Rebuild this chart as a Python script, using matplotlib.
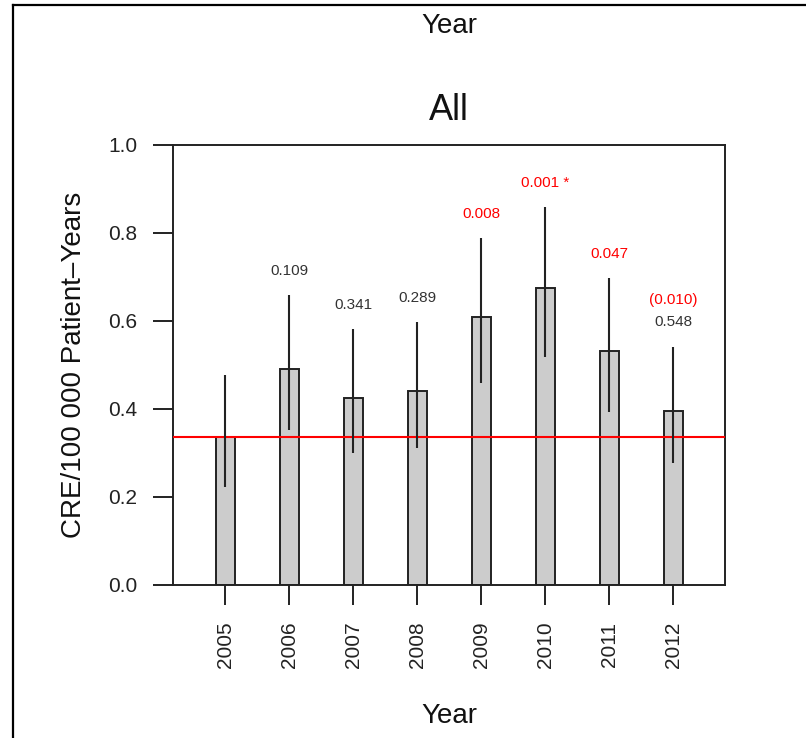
import matplotlib
matplotlib.use("Agg")
import matplotlib.pyplot as plt
from matplotlib.lines import Line2D

plt.rcParams["font.family"] = ["Liberation Sans", "DejaVu Sans"]

# values
years = ["2005", "2006", "2007", "2008", "2009", "2010", "2011", "2012"]
rates = [0.337, 0.492, 0.426, 0.440, 0.610, 0.674, 0.531, 0.396]
ci_low = [0.223, 0.353, 0.300, 0.312, 0.460, 0.519, 0.394, 0.278]
ci_high = [0.478, 0.658, 0.581, 0.597, 0.788, 0.859, 0.697, 0.542]
baseline = 0.337
p_labels = ["", "0.109", "0.341", "0.289", "0.008", "0.001 *", "0.047", "0.548"]
p_colors = ["black", "#333333", "#333333", "#333333", "red", "red", "red", "#333333"]
extra_label = {7: "(0.010)"}

fig = plt.figure(figsize=(8.06, 7.38), dpi=100)
ax = fig.add_axes([173 / 806, 1 - 585 / 738, (725 - 173) / 806, (585 - 145) / 738])

x = list(range(len(years)))
ax.bar(x, rates, width=0.3, color="#cccccc", edgecolor="#222222", linewidth=1.4, zorder=2)
ax.axhline(baseline, color="red", linewidth=1.5, zorder=3)
ax.vlines(x, ci_low, ci_high, color="#222222", linewidth=1.5, zorder=4)

for i, lab in enumerate(p_labels):
    if lab:
        ax.text(i, ci_high[i] + 0.055, lab, ha="center", va="center",
                fontsize=11, color=p_colors[i])
for i, lab in extra_label.items():
    ax.text(i, ci_high[i] + 0.105, lab, ha="center", va="center",
            fontsize=11, color="red")

ax.set_xlim(-0.82, 7.81)
ax.set_ylim(0, 1.0)
ax.set_yticks([0.0, 0.2, 0.4, 0.6, 0.8, 1.0])
ax.set_yticklabels(["0.0", "0.2", "0.4", "0.6", "0.8", "1.0"])
ax.set_xticks(x)
ax.set_xticklabels(years, rotation=90)
ax.tick_params(axis="both", direction="out", length=14.5, width=1.4,
               color="#222222", labelsize=15, labelcolor="#222222")
ax.tick_params(axis="y", pad=11)
ax.tick_params(axis="x", pad=12)
for sp in ax.spines.values():
    sp.set_linewidth(1.4)
    sp.set_color("#222222")

ax.set_ylabel("CRE/100 000 Patient\u2013Years", fontsize=20, labelpad=15, color="#111111")
ax.set_xlabel("Year", fontsize=20, labelpad=25, color="#111111")
ax.set_title("All", fontsize=26, pad=18, color="#111111")

fig.text(449 / 806, 1 - 26 / 738, "Year", ha="center", va="center", fontsize=20, color="#111111")

# outer frame (left and top edges visible)
fig.add_artist(Line2D([13 / 806, 13 / 806], [0, 1 - 5 / 738], transform=fig.transFigure,
                      color="black", linewidth=1.6))
fig.add_artist(Line2D([13 / 806, 1], [1 - 5 / 738, 1 - 5 / 738], transform=fig.transFigure,
                      color="black", linewidth=1.6))

fig.savefig("out.png", dpi=100)
